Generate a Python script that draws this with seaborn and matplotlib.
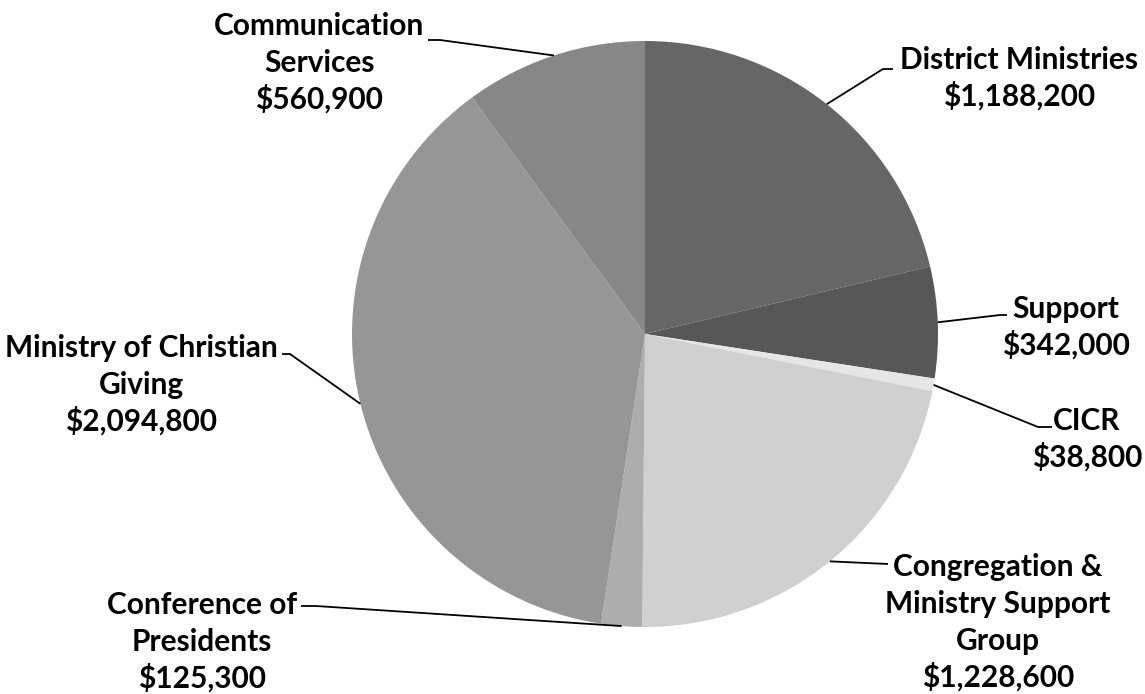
import numpy as np
import matplotlib
matplotlib.use("Agg")
import matplotlib.pyplot as plt
import seaborn as sns

# Budget lines, clockwise from 12 o'clock
categories = [
    ["District Ministries"],
    ["Support"],
    ["CICR"],
    ["Congregation &", "Ministry Support", "Group"],
    ["Conference of", "Presidents"],
    ["Ministry of Christian", "Giving"],
    ["Communication", "Services"],
]
amounts = [1188200, 342000, 38800, 1228600, 125300, 2094800, 560900]
shades = ["#666666", "#575757", "#e6e6e6", "#d0d0d0", "#adadad", "#969696", "#878787"]

# Label layout in pixels: text centre x, first baseline y, leader elbow, leader end
label_x = [1019, 1066, 1087, 998, 202, 141, 319]
label_base = [69, 318, 430, 576, 614, 357, 35]
elbow = [(883, 69), (1000, 315), (1038, 427), (888, 564), (316, 606), (290, 354), (440, 40)]
lead_end = [(893, 69), (1007, 315), (1052, 427), (888, 564), (301, 606), (282, 354), (428, 40)]
LINE_GAP = 37

sns.set_theme(style="white")
plt.rcParams["font.family"] = ["Lato", "DejaVu Sans"]

W, H = 1145, 694
CX, CY, R = 645, 334, 293
fig = plt.figure(figsize=(W / 100, H / 100), dpi=100)
fig.patch.set_facecolor("white")
ax = fig.add_axes([(CX - R) / W, (H - CY - R) / H, 2 * R / W, 2 * R / H])

wedges, _ = ax.pie(
    amounts,
    colors=shades,
    startangle=90,
    counterclock=False,
    radius=1.0,
    wedgeprops=dict(linewidth=0, antialiased=True),
)
ax.set_xlim(-1, 1)
ax.set_ylim(-1, 1)
ax.set_aspect("equal")
ax.axis("off")


def to_data(px, py):
    return (px - CX) / R, (CY - py) / R


for wedge, name_lines, value, tx, tb, el, en in zip(
    wedges, categories, amounts, label_x, label_base, elbow, lead_end
):
    # leader from the middle of the slice's arc to the label
    mid = np.deg2rad((wedge.theta1 + wedge.theta2) / 2)
    x0, y0 = np.cos(mid), np.sin(mid)
    x1, y1 = to_data(*el)
    x2, y2 = to_data(*en)
    ax.plot([x0, x1, x2], [y0, y1, y2], color="black", lw=1.3,
            solid_capstyle="butt", clip_on=False)

    lines = name_lines + [f"${value:,}"]
    for i, line in enumerate(lines):
        x, y = to_data(tx, tb + i * LINE_GAP)
        ax.text(x, y, line, ha="center", va="baseline", fontsize=21.5,
                fontweight="bold", color="black", clip_on=False)

fig.savefig("out.png", dpi=100, facecolor="white")
